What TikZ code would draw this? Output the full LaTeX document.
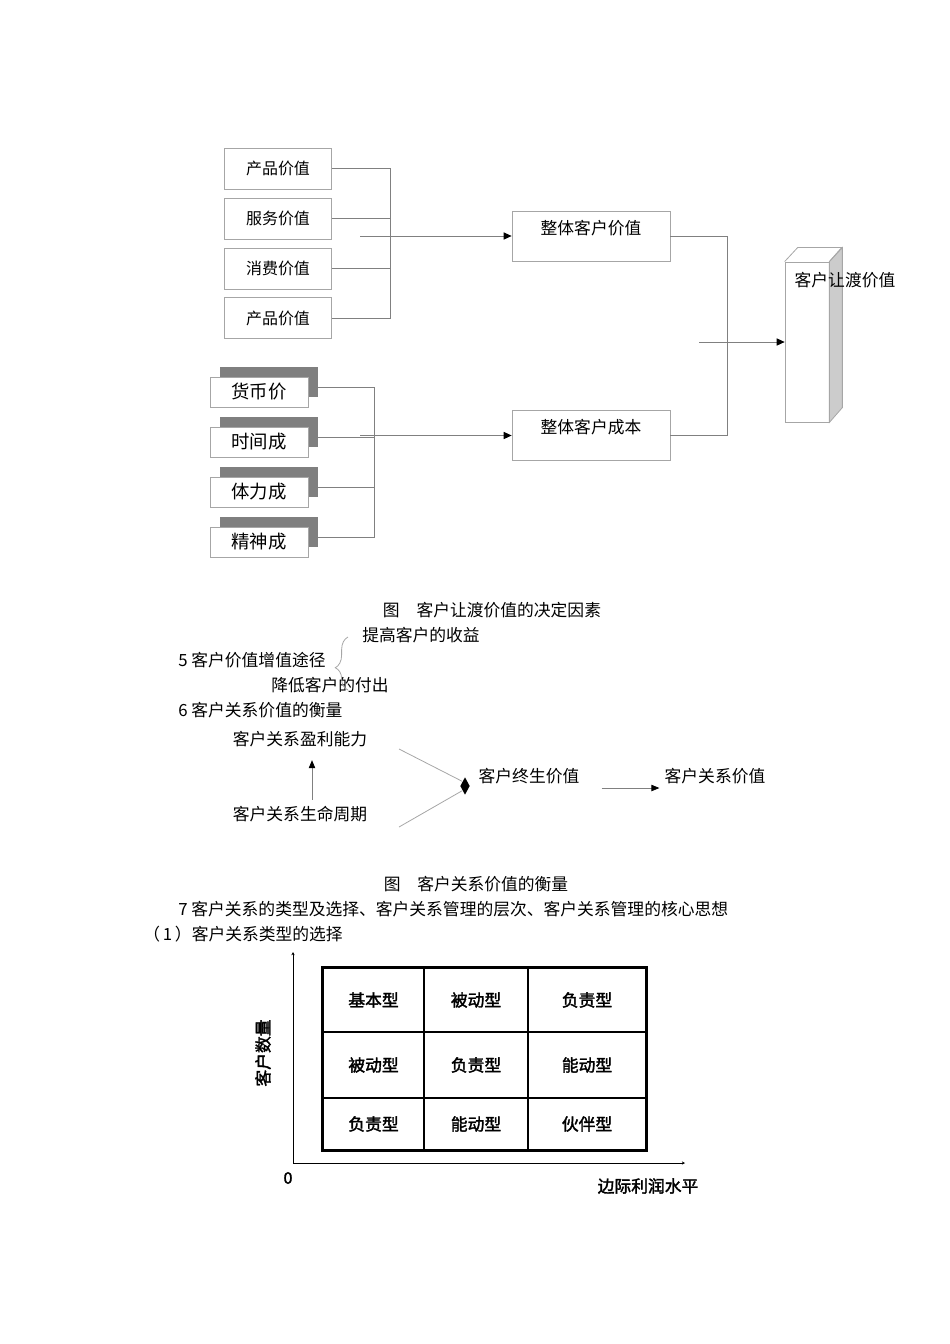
\documentclass[tikz,border=0pt]{standalone}
\usepackage{fontspec}
\setmainfont{Noto Sans CJK SC}
\newfontfamily\boldcjk[FakeBold=2]{Noto Sans CJK SC}
\usetikzlibrary{arrows.meta,positioning,shapes.geometric,shadows,decorations.pathreplacing}
\definecolor{boxgray}{HTML}{A6A6A6}
\definecolor{linegray}{HTML}{808080}
\definecolor{shadegray}{HTML}{7F7F7F}
\definecolor{sidegray}{HTML}{CCCCCC}

\begin{document}
\begin{tikzpicture}[x=0.626pt, y=-0.626pt,
    every node/.style={font=\fontsize{10.5pt}{12pt}\selectfont, inner sep=0pt},
    valbox/.style={rectangle, draw=boxgray, line width=0.5pt, minimum width=67pt, minimum height=25.7pt, font=\fontsize{10pt}{12pt}\selectfont},
    costbox/.style={rectangle, draw=boxgray, fill=white, line width=0.5pt, minimum width=61.3pt, minimum height=18.8pt, font=\fontsize{11.5pt}{12pt}\selectfont,
        drop shadow={shadow xshift=6.26pt, shadow yshift=6.26pt, fill=shadegray, opacity=1}},
    totalbox/.style={rectangle, draw=boxgray, line width=0.5pt, minimum width=98.9pt, minimum height=31.3pt},
    cell/.style={rectangle, draw=black, line width=0.8pt, font=\boldcjk\fontsize{10.5pt}{12pt}\selectfont},
    link/.style={draw=linegray, line width=0.5pt},
    arrow/.style={-{Triangle[length=5pt, width=4.5pt, color=black]}, draw=linegray, line width=0.5pt}
]
\useasboundingbox (0,0) rectangle (950,1344);

% value side
\node[valbox] (pv1) at (278,168.5) {产品价值};
\node[valbox] (pv2) at (278,218.5) {服务价值};
\node[valbox] (pv3) at (278,268.5) {消费价值};
\node[valbox] (pv4) at (278,318) {产品价值};

\draw[link] (pv1.east) -- ++(58,0) |- (pv4.east);
\draw[link] (pv2.east) -- ++(58,0);
\draw[link] (pv3.east) -- ++(58,0);

% cost side
\node[costbox] (mc1) at (259,392) {货币价};
\node[costbox] (mc2) at (259,442) {时间成};
\node[costbox] (mc3) at (259,492) {体力成};
\node[costbox] (mc4) at (259,542) {精神成};

\draw[link] ([shift={(9,-5)}]mc1.east) -- ++(57,0) |- ([shift={(9,-5)}]mc4.east);
\draw[link] ([shift={(9,-5)}]mc2.east) -- ++(57,0);
\draw[link] ([shift={(9,-5)}]mc3.east) -- ++(57,0);

% totals
\node[totalbox] (tv) at (591,236) {};
\node (tvt) at (591,228) {整体客户价值};
\node[totalbox] (tc) at (591,435.5) {};
\node (tct) at (591,427) {整体客户成本};

\coordinate (vin) at (360,236);
\coordinate (cin) at (360,435.5);
\draw[arrow] (vin) -- (tv.west);
\draw[arrow] (cin) -- (tc.west);

\draw[link] (tv.east) -- ++(57,0) |- (tc.east);

% delivered value block
\node[draw=boxgray, line width=0.5pt, minimum width=27.5pt, minimum height=100.2pt] (dv) at (807,342) {};
\draw[draw=boxgray, line width=0.5pt, fill=sidegray] (dv.north east) -- ++(13,-14) -- ++(0,160) -- (dv.south east) -- cycle;
\draw[draw=boxgray, line width=0.5pt] (dv.north west) -- ++(13,-14) -- ++(44,0) -- (dv.north east);
\node (dvt) at (845,280) {客户让渡价值};

\coordinate (rin) at (699,342);
\draw[arrow] (rin) -- (dv.west);

% captions and text
\node (cap1) at (492,610) {图\quad 客户让渡价值的决定因素};
\node[anchor=west] (up) at (362,635) {提高客户的收益};
\node[anchor=west] (s5) at (178,660) {5 客户价值增值途径};
\node[anchor=west] (down) at (271,685) {降低客户的付出};
\node[anchor=west] (s6) at (178,710) {6 客户关系价值的衡量};
\draw[draw=boxgray, line width=0.5pt, decorate, decoration={brace, amplitude=8pt, aspect=0.42}] (348,690) -- (348,637);

% relationship value
\node (prof) at (300,739) {客户关系盈利能力};
\node (life) at (300,814) {客户关系生命周期};
\node (ltv) at (529,776) {客户终生价值};
\node (crv) at (715,776) {客户关系价值};
\node[diamond, fill=black, minimum width=6pt, minimum height=11pt] (dm) at (465,786) {};

\coordinate (pin) at (399,749);
\coordinate (lin) at (399,827);
\draw[link, draw=boxgray] (pin) -- (dm.north west);
\draw[link, draw=boxgray] (lin) -- (dm.south west);
\draw[arrow, -{Triangle[length=5pt, width=4pt, color=black]}] ([shift={(12,-6)}]life.north) -- ([shift={(12,13)}]prof.south);
\draw[arrow, -{Triangle[length=5pt, width=4pt, color=black]}] ([shift={(22,12)}]ltv.east) -- ([shift={(-5,12)}]crv.west);

\node (cap2) at (476,884) {图\quad 客户关系价值的衡量};
\node[anchor=west] (s7) at (178,909) {7 客户关系的类型及选择、客户关系管理的层次、客户关系管理的核心思想};
\node[anchor=west] (s71) at (143,934) {（\,1\,）客户关系类型的选择};

% type grid
\node[cell, minimum width=63.2pt, minimum height=40pt] (c11) at (373.5,1000) {基本型};
\node[cell, minimum width=65.1pt, minimum height=40pt] (c12) at (476,1000) {被动型};
\node[cell, minimum width=73.9pt, minimum height=40pt] (c13) at (587,1000) {负责型};
\node[cell, minimum width=63.2pt, minimum height=41.3pt] (c21) at (373.5,1065) {被动型};
\node[cell, minimum width=65.1pt, minimum height=41.3pt] (c22) at (476,1065) {负责型};
\node[cell, minimum width=73.9pt, minimum height=41.3pt] (c23) at (587,1065) {能动型};
\node[cell, minimum width=63.2pt, minimum height=32.6pt] (c31) at (373.5,1124) {负责型};
\node[cell, minimum width=65.1pt, minimum height=32.6pt] (c32) at (476,1124) {能动型};
\node[cell, minimum width=73.9pt, minimum height=32.6pt] (c33) at (587,1124) {伙伴型};
\draw[line width=1.3pt] (c11.north west) rectangle (c33.south east);

\coordinate (o) at (293,1163);
\coordinate (ytop) at (293,952);
\coordinate (xend) at (685,1163);
\draw[line width=0.6pt, -{Stealth[length=2pt, width=2pt]}] (o) -- (ytop);
\draw[line width=0.6pt, -{Stealth[length=2pt, width=2pt]}] (o) -- (xend);
\node[rotate=90, font=\boldcjk\fontsize{10.5pt}{12pt}\selectfont] (ylab) at (263,1053) {客户数量};
\node[font=\boldcjk\fontsize{10pt}{12pt}\selectfont] (zero) at (288,1178) {0};
\node[font=\boldcjk\fontsize{10.5pt}{12pt}\selectfont] (xlab) at (648,1186) {边际利润水平};

\end{tikzpicture}
\end{document}
